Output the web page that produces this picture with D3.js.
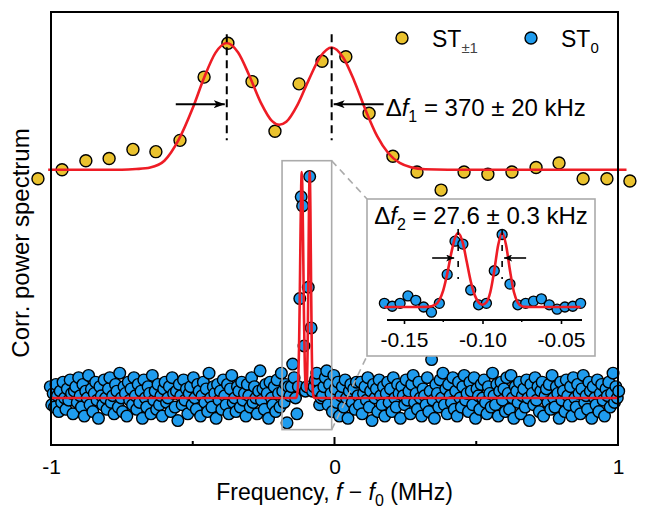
<!DOCTYPE html>
<html>
<head>
<meta charset="utf-8">
<script src="https://cdn.jsdelivr.net/npm/d3@7"></script>
<style>
  body { margin: 0; background: #fff; }
  svg { display: block; }
  text { font-family: "Liberation Sans", Arial, sans-serif; }
</style>
</head>
<body>
<div id="chart"></div>
<script>
// ST±1 spectrum (yellow)
const yellowF = [-1.046, -0.961, -0.877, -0.795, -0.711, -0.630, -0.545, -0.460, -0.376, -0.291, -0.210, -0.125, -0.044,
  0.040, 0.122, 0.206, 0.291, 0.376, 0.457, 0.541, 0.626, 0.711, 0.792, 0.877, 0.961, 1.042];
const yellowV = [97, 101, 105, 106, 110, 109, 114, 142, 157, 140, 118, 139, 149,
  151, 126, 107, 100, 92, 100, 99, 100, 102, 104, 97, 97, 96];

// fit through ST±1
const yFitF = [-1.01, -0.9, -0.8, -0.75, -0.7, -0.65, -0.6, -0.55, -0.5, -0.46, -0.42, -0.38, -0.34, -0.30, -0.26, -0.22,
  -0.195, -0.17, -0.13, -0.09, -0.05, -0.01, 0.03, 0.07, 0.11, 0.15, 0.19, 0.23, 0.27, 0.32, 0.4, 0.6, 0.8, 1.03];
const yFitV = [101, 101, 101, 101, 101.3, 102, 105, 114.2, 128.3, 141.7, 152.7, 157.1, 152.9, 142.5, 130.7, 122.5,
  120.9, 122.2, 129.8, 141, 151, 155.1, 150.8, 140.2, 127.3, 116, 108.3, 104, 102.1, 101.2, 101, 101, 101, 101];

// ST0 spectrum (blue), 5 kHz steps, three stretches
const blueStep = 0.005;
const blueLeftStart = -1.0025;
const blueLeft = [
  5, -3, 2, -4, 6, 1, -6, 3, -2, 7, 0, -5, 4, -1, 8, 2, -7, 3, 5, -2,
  9, 1, -4, 6, -8, 3, 0, 10, -3, 4, -6, 2, 7, -1, -9, 5, 1, -3, 8, 0,
  -5, 4, 9, -2, 1, -7, 6, 3, -4, 11, 0, -6, 5, 2, -8, 7, -1, 4, -3, 9,
  1, -5, 6, -2, 3, -9, 8, 0, -4, 5, 2, -7, 10, -1, 3, -5, 6, -3, 1, -8,
  4, 7, -2, 0, 5, -6, 9, 2, -4, 3, -10, 6, 1, -3, 8, -1, 4, -7, 2, 5,
  -3, 9, 0, -5, 6, 3, -8, 1, 7, -2, 4, -6, 11, 0, -4, 5, 2, -9, 6, -1,
  3, -5, 8, 1, -3, 6, -7, 4, 10, -2, 0, -6, 5, 3, -4, 7, -1, 2, -8, 6,
  1, -4, 9, -2, 5, 0, -7, 3, 12, -1, 4, -5, 6, 2, -9, 7, 0, -3, 5, -6,
  8, 2, -4, 11, 3, -2, 6, -11];
const bluePeakStart = -0.1625;
const bluePeak = [5, 1, 5, 15, 9, 0, -7, 5, 44, 89, 85, 23, 3, 5, 49, 98, 31, 3, 5, 8, 11, 3, -3, 0, 1, 5];
const blueRightStart = -0.0325;
const blueRight = [
  9, 12, -3, 6, 2, -6, 10, 4, -2, 7, -8, 1, 5, -4, 8, 0, -9, 3, 6, -2,
  4, -5, 7, 1, -3, 7, -7, 2, 5, -1, 9, -4, 3, -10, 6, 0, 4, -6, 8, 1,
  -3, 5, -8, 2, 7, -2, 4, -6, 9, 0, -4, 6, 2, -9, 5, 1, -3, 8, -1, 3,
  -7, 6, 10, -2, 2, -5, 7, 0, -8, 4, 1, -3, 9, -6, 3, 17, -1, -9, 6, 2,
  -4, 8, 0, 11, -3, 4, -7, 6, 1, -2, 9, -5, 3, -8, 7, 0, -4, 5, 10, -1,
  2, -6, 7, 3, -3, 9, -9, 4, 1, -5, 6, 0, 8, -2, -7, 5, 2, -4, 11, 1,
  -3, 6, -8, 3, 7, -1, 4, -6, 9, 2, -5, 10, 0, -9, 5, 3, -2, 7, -7, 1,
  4, -4, 8, 0, -10, 6, 2, -3, 9, -1, 5, -6, 3, 7, -8, 1, 4, -2, 6, -5,
  10, 0, -4, 5, 2, -9, 7, -1, 3, -6, 8, 1, -3, 5, -8, 9, 0, -4, 6, 2,
  -7, 4, 10, -2, 1, -5, 7, 3, -9, 5, 0, -3, 8, -6, 2, 6, -1, -8, 4, 1,
  7, -4, 2, 11, -2, 5, 0, 3];

// fit through ST0
const bFitF = [-1.0, -0.1625, -0.14, -0.135, -0.13, -0.1275, -0.125, -0.1225, -0.12, -0.1175, -0.1155, -0.1125, -0.11,
  -0.1075, -0.105, -0.1025, -0.1, -0.0975, -0.095, -0.0925, -0.09, -0.0875, -0.085, -0.0825, -0.08, -0.0775, -0.075,
  -0.0725, -0.07, -0.0375, 1.0];
const bFitV = [0, 0, 0, 0.2, 3.1, 9.3, 22.5, 44.5, 71.6, 93.6, 100, 86.2, 60.7,
  34.7, 16.2, 6.3, 3.1, 6.4, 20.3, 49.3, 83.8, 100, 83.8, 49.3, 20.3, 5.9, 1.2,
  0.2, 0, 0, 0];

const peaks1 = [-0.38, -0.01];       // Δf1 markers
const peaks2 = [-0.1155, -0.0875];   // Δf2 markers
const xTicks = [-1, 0, 1];
const xMinor = [-0.5, 0.5];
const insetTicks = [-0.15, -0.10, -0.05];
const insetMinor = [-0.125, -0.075];

const yellow = "#EAC22E", blue = "#1F9CEE", red = "#EE1C25", grey = "#ababab";
const hyphen = fmt => d => fmt(d).replace("−", "-");

const toPts = (fs, vs) => fs.map((f, i) => ({ f, v: vs[i] }));
const seg = (start, vs) => vs.map((v, i) => ({ f: start + i * blueStep, v }));
const yellowPts = toPts(yellowF, yellowV);
const yFit = toPts(yFitF, yFitV);
const bFit = toPts(bFitF, bFitV);
const peakPts = seg(bluePeakStart, bluePeak);
const bluePts = seg(blueLeftStart, blueLeft).concat(peakPts, seg(blueRightStart, blueRight));

const W = 647, H = 511;
const margin = { top: 12, right: 29, bottom: 66, left: 51 };
const w = W - margin.left - margin.right;
const h = H - margin.top - margin.bottom;

const svg = d3.select("#chart").append("svg")
  .attr("width", W)
  .attr("height", H);

const defs = svg.append("defs");
[["arr", 11, 4], ["arrS", 8, 3.5]].forEach(([id, len, hw]) => {
  defs.append("marker")
    .attr("id", id)
    .attr("viewBox", `0 ${-hw} ${len} ${2 * hw}`)
    .attr("refX", len).attr("refY", 0)
    .attr("markerUnits", "userSpaceOnUse")
    .attr("markerWidth", len).attr("markerHeight", 2 * hw)
    .attr("orient", "auto")
    .append("path")
    .attr("d", `M0,${-hw}L${len},0L0,${hw}L${len * 0.25},0Z`)
    .attr("fill", "#000");
});

const plot = svg.append("g")
  .attr("transform", `translate(${margin.left},${margin.top})`);

const x = d3.scaleLinear().domain([-1, 1]).range([0, w]);
const y = d3.scaleLinear().domain([-20.8, 170.8]).range([h, 0]);

const line = d3.line()
  .x(d => x(d.f))
  .y(d => y(d.v))
  .curve(d3.curveMonotoneX);

// blue points + fit
plot.append("g").selectAll("circle")
  .data(bluePts)
  .join("circle")
  .attr("cx", d => x(d.f))
  .attr("cy", d => y(d.v))
  .attr("r", 5.8)
  .attr("fill", blue)
  .attr("stroke", "#000")
  .attr("stroke-width", 1.4);

plot.append("path")
  .datum(bFit)
  .attr("fill", "none")
  .attr("stroke", red)
  .attr("stroke-width", 2.6)
  .attr("d", line);

// yellow points + fit
plot.append("g").selectAll("circle")
  .data(yellowPts)
  .join("circle")
  .attr("cx", d => x(d.f))
  .attr("cy", d => y(d.v))
  .attr("r", 6)
  .attr("fill", yellow)
  .attr("stroke", "#000")
  .attr("stroke-width", 1.4);

plot.append("path")
  .datum(yFit)
  .attr("fill", "none")
  .attr("stroke", red)
  .attr("stroke-width", 2.6)
  .attr("d", line);

// dashed peak markers and arrows for Δf1
peaks1.forEach(p => {
  plot.append("line")
    .attr("x1", x(p)).attr("x2", x(p))
    .attr("y1", y(161)).attr("y2", y(114))
    .attr("stroke", "#000")
    .attr("stroke-width", 2)
    .attr("stroke-dasharray", "8,5");
});
plot.append("line")
  .attr("x1", x(peaks1[0]) - 51).attr("x2", x(peaks1[0]) - 2)
  .attr("y1", y(130)).attr("y2", y(130))
  .attr("stroke", "#000").attr("stroke-width", 2)
  .attr("marker-end", "url(#arr)");
plot.append("line")
  .attr("x1", x(peaks1[1]) + 52).attr("x2", x(peaks1[1]) + 2)
  .attr("y1", y(130)).attr("y2", y(130))
  .attr("stroke", "#000").attr("stroke-width", 2)
  .attr("marker-end", "url(#arr)");

const t1 = plot.append("text")
  .attr("x", x(peaks1[1]) + 54)
  .attr("y", y(125))
  .style("font-size", "24px");
t1.append("tspan").text("Δ");
t1.append("tspan").style("font-style", "italic").text("f");
t1.append("tspan").attr("dy", 6).style("font-size", "16px").text("1");
t1.append("tspan").attr("dy", -6).text(" = 370 ± 20 kHz");

// zoom box in main plot
const bx0 = x(-0.185), bx1 = x(-0.01), by0 = y(105), by1 = y(-14);
plot.append("rect")
  .attr("x", bx0).attr("y", by0)
  .attr("width", bx1 - bx0).attr("height", by1 - by0)
  .attr("fill", "none")
  .attr("stroke", grey)
  .attr("stroke-width", 1.6);

// frame
plot.append("rect")
  .attr("width", w).attr("height", h)
  .attr("fill", "none")
  .attr("stroke", "#000")
  .attr("stroke-width", 2);

plot.append("g")
  .attr("transform", `translate(0,${h})`)
  .call(d3.axisBottom(x).tickValues(xTicks).tickSize(0).tickPadding(14).tickFormat(hyphen(d3.format("d"))))
  .call(g => g.select(".domain").remove())
  .call(g => g.selectAll("text").style("font-size", "21px").attr("fill", "#000")
    .style("font-family", "\"Liberation Sans\", Arial, sans-serif"));

plot.append("g").selectAll("line")
  .data([0].concat(xMinor))
  .join("line")
  .attr("x1", d => x(d)).attr("x2", d => x(d))
  .attr("y1", h).attr("y2", d => d === 0 ? h - 8 : h - 4)
  .attr("stroke", "#000")
  .attr("stroke-width", 2);

// axis titles
const xt = svg.append("text")
  .attr("x", margin.left + w / 2)
  .attr("y", 500)
  .attr("text-anchor", "middle")
  .style("font-size", "23px");
xt.append("tspan").text("Frequency, ");
xt.append("tspan").style("font-style", "italic").text("f");
xt.append("tspan").text(" − ");
xt.append("tspan").style("font-style", "italic").text("f");
xt.append("tspan").attr("dy", 6).style("font-size", "16px").text("0");
xt.append("tspan").attr("dy", -6).text(" (MHz)");

svg.append("text")
  .attr("transform", `translate(29,${margin.top + 231}) rotate(-90)`)
  .attr("text-anchor", "middle")
  .style("font-size", "24px")
  .text("Corr. power spectrum");

// legend
const legend = svg.append("g");
[[yellow, "ST", "±1", 402], [blue, "ST", "0", 531]].forEach(([c, main, sub, lx]) => {
  legend.append("circle")
    .attr("cx", lx).attr("cy", 38).attr("r", 6)
    .attr("fill", c).attr("stroke", "#000").attr("stroke-width", 1.4);
  const t = legend.append("text")
    .attr("x", lx + 30).attr("y", 47)
    .style("font-size", "23px");
  t.append("tspan").text(main);
  t.append("tspan").attr("dy", 6)
    .style("font-size", "15px")
    .attr("fill", sub === "0" ? "#000" : "#444")
    .text(sub);
});

// inset
const ib = { x: 367, y: 199, w: 228, h: 157 };
svg.append("line")
  .attr("x1", margin.left + bx1).attr("y1", margin.top + by0)
  .attr("x2", ib.x).attr("y2", ib.y)
  .attr("stroke", grey).attr("stroke-width", 1.6).attr("stroke-dasharray", "7,5");
svg.append("line")
  .attr("x1", margin.left + bx1).attr("y1", margin.top + by1)
  .attr("x2", ib.x).attr("y2", ib.y + ib.h)
  .attr("stroke", grey).attr("stroke-width", 1.6).attr("stroke-dasharray", "7,5");

const inset = svg.append("g");
inset.append("rect")
  .attr("x", ib.x).attr("y", ib.y)
  .attr("width", ib.w).attr("height", ib.h)
  .attr("fill", "#fff")
  .attr("stroke", grey)
  .attr("stroke-width", 1.6);

const ix = d3.scaleLinear().domain([-0.15, -0.05]).range([404, 561]);
const iy = d3.scaleLinear().domain([0, 100]).range([307, 233]);
const iLine = d3.line()
  .x(d => ix(d.f))
  .y(d => iy(d.v))
  .curve(d3.curveMonotoneX);

const fLo = bluePeakStart - 0.001, fHi = bluePeakStart + (bluePeak.length - 1) * blueStep + 0.001;

inset.append("g").selectAll("circle")
  .data(peakPts)
  .join("circle")
  .attr("cx", d => ix(d.f))
  .attr("cy", d => iy(d.v))
  .attr("r", 5)
  .attr("fill", blue)
  .attr("stroke", "#000")
  .attr("stroke-width", 1.3);

inset.append("path")
  .datum(bFit.filter(d => d.f >= fLo && d.f <= fHi))
  .attr("fill", "none")
  .attr("stroke", red)
  .attr("stroke-width", 2.6)
  .attr("d", iLine);

peaks2.forEach(p => {
  inset.append("line")
    .attr("x1", ix(p)).attr("x2", ix(p))
    .attr("y1", 229).attr("y2", 279)
    .attr("stroke", "#000")
    .attr("stroke-width", 1.6)
    .attr("stroke-dasharray", "6,10");
});
inset.append("line")
  .attr("x1", ix(peaks2[0]) - 26).attr("x2", ix(peaks2[0]) - 4)
  .attr("y1", 258).attr("y2", 258)
  .attr("stroke", "#000").attr("stroke-width", 1.6)
  .attr("marker-end", "url(#arrS)");
inset.append("line")
  .attr("x1", ix(peaks2[1]) + 24).attr("x2", ix(peaks2[1]) + 2)
  .attr("y1", 258).attr("y2", 258)
  .attr("stroke", "#000").attr("stroke-width", 1.6)
  .attr("marker-end", "url(#arrS)");

inset.append("g")
  .attr("transform", "translate(0,320)")
  .call(d3.axisBottom(ix).tickValues(insetTicks).tickSize(4).tickPadding(8).tickFormat(hyphen(d3.format(".2f"))))
  .call(g => g.select(".domain").attr("d", "M387,0H582").attr("stroke-width", 2))
  .call(g => g.selectAll(".tick line").attr("stroke-width", 1.6))
  .call(g => g.selectAll("text").style("font-size", "21px").attr("fill", "#000")
    .style("font-family", "\"Liberation Sans\", Arial, sans-serif"));
inset.append("g").selectAll("line")
  .data(insetMinor)
  .join("line")
  .attr("x1", d => ix(d)).attr("x2", d => ix(d))
  .attr("y1", 320).attr("y2", 322)
  .attr("stroke", "#000").attr("stroke-width", 1.4);

const t2 = inset.append("text")
  .attr("x", ib.x + ib.w / 2)
  .attr("y", 224)
  .attr("text-anchor", "middle")
  .style("font-size", "24px");
t2.append("tspan").text("Δ");
t2.append("tspan").style("font-style", "italic").text("f");
t2.append("tspan").attr("dy", 6).style("font-size", "16px").text("2");
t2.append("tspan").attr("dy", -6).text(" = 27.6 ± 0.3 kHz");
</script>
</body>
</html>
